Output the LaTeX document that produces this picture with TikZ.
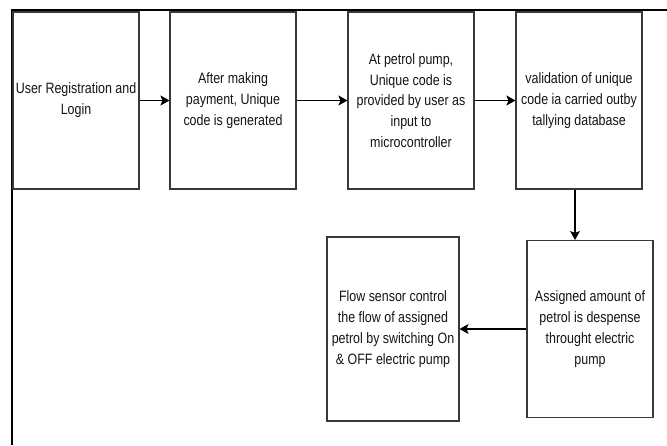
\documentclass[tikz,border=0pt]{standalone}
\usetikzlibrary{arrows.meta,positioning}
\usepackage{fontspec}
\setmainfont{Liberation Sans}[FakeStretch=0.83]

\begin{document}
\begin{tikzpicture}[
  x=1pt, y=-1pt,
  >={Stealth[length=9pt,width=10pt,inset=2pt]},
  stepbox/.style={draw=black!78, line width=1.1pt, align=center,
    inner sep=0pt, minimum width=126pt,
    minimum height=177pt, text=black!92,
    font=\fontsize{15}{20.8}\selectfont},
  flow/.style={->, line width=1.1pt, black}
]
\useasboundingbox (0,0) rectangle (667,445);

% --- frame (top and left edges only)
\draw[line width=2.2pt] (12,445) -- (12,10) -- (667,10);

% --- x centres of the top row
\def\xA{76}
\def\xB{233}
\def\xC{411}
\def\xD{579}
\def\yTop{100.5}

% --- top row
\node[stepbox] (reg) at (\xA,\yTop) {User Registration and\\Login};
\node[stepbox] (pay) at (\xB,\yTop) {After making\\payment, Unique\\code is generated};
\node[stepbox] (pump) at (\xC,\yTop) {At petrol pump,\\Unique code is\\provided by user as\\input to\\microcontroller};
\node[stepbox] (valid) at (\xD,\yTop) {validation of unique\\code ia carried outby\\tallying database};

% --- bottom row
\node[stepbox] (disp) at (590,329) {Assigned amount of\\petrol is despense\\throught electric\\pump};
\node[stepbox, minimum width=132pt, minimum height=184pt] (flowsens) at (393,329)
  {Flow sensor control\\the flow of assigned\\petrol by switching On\\\& OFF electric pump};

% --- connectors
\draw[flow] (reg) -- (pay);
\draw[flow] (pay) -- (pump);
\draw[flow] (pump) -- (valid);
\draw[flow] ([xshift=-4pt]valid.south) -- ([xshift=-4pt]valid.south |- disp.north);
\draw[flow] (disp) -- (flowsens);

\end{tikzpicture}
\end{document}
